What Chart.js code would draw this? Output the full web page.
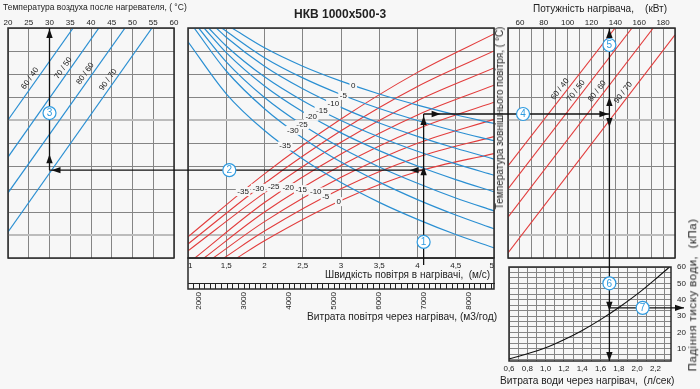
<!DOCTYPE html>
<html>
<head>
<meta charset="utf-8">
<script src="https://cdn.jsdelivr.net/npm/chart.js@4.4.1/dist/chart.umd.min.js"></script>
<style>
  body { margin: 0; background: #f7f7f7; }
  #page { position: relative; width: 700px; height: 389px; overflow: hidden;
          font-family: "Liberation Sans", Arial, sans-serif; color: #222; }
  #page canvas { position: absolute; left: 0; top: 0; }
  .txt { position: absolute; white-space: pre; line-height: 1; transform: translateY(-50%); }
  .rot { position: absolute; white-space: pre; line-height: 1; transform: translate(-50%, -50%) rotate(-90deg); }
</style>
</head>
<body>
<div id="page">
  <canvas id="outletChart" width="700" height="389"></canvas>
  <canvas id="airChart" width="700" height="389"></canvas>
  <canvas id="powerChart" width="700" height="389"></canvas>
  <canvas id="waterChart" width="700" height="389"></canvas>

  <div class="txt" style="left:3px;top:7px;font-size:8.5px">Температура воздуха после нагревателя, ( °C)</div>
  <div class="txt" style="left:294px;top:14px;font-size:12px;font-weight:bold">НКВ 1000x500-3</div>
  <div class="txt" style="left:533px;top:9px;font-size:10px">Потужність нагрівача,    (кВт)</div>
  <div class="rot" style="left:500px;top:118px;font-size:10px">Температура зовнішнього повітря, ( °C)</div>
  <div class="txt" style="left:325px;top:275px;font-size:10px">Швидкість повітря в нагрівачі,  (м/с)</div>
  <div class="txt" style="left:307px;top:317px;font-size:10.2px">Витрата повітря через нагрівач, (м3/год)</div>
  <div class="txt" style="left:500px;top:381px;font-size:10.2px">Витрата води через нагрівач,  (л/сек)</div>
  <div class="rot" style="left:693px;top:295px;font-size:11.5px;letter-spacing:0.5px">Падіння тиску води,  (кПа)</div>
</div>

<script>
Chart.defaults.font.family = '"Liberation Sans", Arial, sans-serif';
Chart.defaults.font.size = 8;
Chart.defaults.color = '#222';
Chart.defaults.animation = false;
Chart.defaults.plugins.legend.display = false;
Chart.defaults.plugins.tooltip.enabled = false;

// rows shared by the three upper panels
const rowMin = 0;
const rowMax = 10;
const heavyRows = [1, 6];

// left panel: air temperature after the heater
const outletRange = [20, 60];
const regimeNames = ['60 / 40', '70 / 50', '80 / 60', '90 / 70'];
const outletLines = [
  [[20, 6.0], [35.7, 10]],
  [[20, 4.39], [41.9, 10]],
  [[20, 2.83], [48.2, 10]],
  [[20, 1.13], [54.7, 10]]
];
const outletLabelAt = [26.5, 34.5, 39.8, 45.3];

// middle panel: air velocity / airflow
const velocityRange = [1, 5];
const airflowRange = [1755, 8555];
const curveTemps = ['0', '-5', '-10', '-15', '-20', '-25', '-30', '-35'];
const blueCurves = [
  [[1.575, 10], [2, 9.14], [2.5, 8.34], [3, 7.69], [3.5, 7.13], [4, 6.65], [4.5, 6.23], [5, 5.85]],
  [[1.44, 10], [2, 8.71], [2.5, 7.83], [3, 7.11], [3.5, 6.50], [4, 5.98], [4.5, 5.51], [5, 5.10]],
  [[1.37, 10], [1.5, 9.60], [2, 8.34], [2.5, 7.36], [3, 6.55], [3.5, 5.87], [4, 5.29], [4.5, 4.77], [5, 4.30]],
  [[1.27, 10], [1.5, 9.22], [2, 7.88], [2.5, 6.84], [3, 5.98], [3.5, 5.26], [4, 4.64], [4.5, 4.09], [5, 3.60]],
  [[1.21, 10], [1.5, 8.93], [2, 7.48], [2.5, 6.36], [3, 5.44], [3.5, 4.67], [4, 4.00], [4.5, 3.41], [5, 2.88]],
  [[1.14, 10], [1.5, 8.53], [2, 6.98], [2.5, 5.78], [3, 4.79], [3.5, 3.96], [4, 3.25], [4.5, 2.61], [5, 2.05]],
  [[1.08, 10], [1.5, 8.13], [2, 6.49], [2.5, 5.22], [3, 4.17], [3.5, 3.30], [4, 2.54], [4.5, 1.87], [5, 1.27]],
  [[1, 9.4], [1.5, 7.14], [2, 5.54], [2.5, 4.30], [3, 3.28], [3.5, 2.42], [4, 1.68], [4.5, 1.02], [5, 0.44]]
];
const blueLabelAt = [[3.16, 7.5], [3.03, 7.07], [2.9, 6.71], [2.75, 6.41], [2.61, 6.16], [2.49, 5.8], [2.37, 5.55], [2.27, 4.87]];
const redCurves = [
  [[1.64, 0], [2, 0.75], [3, 2.50], [4, 3.76], [5, 4.54]],
  [[1.47, 0], [2, 1.17], [3, 3.01], [4, 4.38], [5, 5.28]],
  [[1.33, 0], [2, 1.58], [3, 3.51], [4, 4.99], [5, 6.03]],
  [[1.21, 0], [2, 2.00], [3, 4.02], [4, 5.61], [5, 6.77]],
  [[1.09, 0], [2, 2.41], [3, 4.52], [4, 6.22], [5, 7.51]],
  [[1, 0.31], [2, 2.83], [3, 5.03], [4, 6.84], [5, 8.26]],
  [[1, 0.61], [2, 3.24], [3, 5.53], [4, 7.46], [5, 9.00]],
  [[1, 0.92], [2, 3.66], [3, 6.04], [4, 8.07], [5, 9.74]]
];
const redLabelAt = [[2.97, 2.45], [2.80, 2.64], [2.67, 2.87], [2.48, 2.97], [2.31, 3.06], [2.12, 3.09], [1.92, 3.03], [1.72, 2.89]];

// right panel: heater power
const powerRange = [50, 190];
const powerLines = [
  [[50, 4.0], [139.8, 10]],
  [[50, 3.0], [154, 10]],
  [[50, 1.78], [171.8, 10]],
  [[50, 0.22], [190, 9.7]]
];
const powerLabelAt = [97.6, 111, 128.7, 150.6];

// lower right panel: water pressure drop
const waterRange = [0.6, 2.37];
const pressureRange = [2.5, 60];
const waterFlow = [0.6, 0.8, 1.0, 1.2, 1.4, 1.6, 1.8, 2.0, 2.2, 2.35];
const pressureDrop = [3.8, 6.9, 10.6, 15.5, 21.2, 27.8, 35.2, 43.4, 52.6, 59.8];

// worked example
const guideVelocity = 4.08;
const guideRowLow = 3.82;
const guideRowHigh = 6.26;
const guideOutletTemp = 30;
const guidePower = 135;
const guidePressure = 35;

const BLUE = '#2a8fd2';
const RED = '#e23c3c';
const GRID = '#858585';
const BG = '#f7f7f7';
const charts = {};

function pts(list) { return list.map(p => ({ x: p[0], y: p[1] })); }

function fixSize(size) {
  return function (scale) {
    if (scale.isHorizontal()) scale.height = size; else scale.width = size;
    scale.paddingLeft = 0; scale.paddingRight = 0; scale.paddingTop = 0; scale.paddingBottom = 0;
  };
}

function stepTicks(min, max, step) {
  return function (scale) {
    const t = [];
    for (let i = 0; min + i * step <= max + 1e-9; i++) t.push({ value: +(min + i * step).toFixed(6) });
    scale.ticks = t;
  };
}

function rowAxis() {
  const heavy = c => c.tick && heavyRows.includes(c.tick.value);
  return {
    type: 'linear', min: rowMin, max: rowMax,
    afterBuildTicks: stepTicks(rowMin, rowMax, 1),
    afterFit: fixSize(0),
    ticks: { display: false },
    border: { display: false },
    grid: { drawTicks: false, color: c => heavy(c) ? '#bcbcbc' : GRID, lineWidth: c => heavy(c) ? 2 : 1 }
  };
}

function framePlugin(extra) {
  return {
    id: 'frame',
    afterDraw(chart) {
      const a = chart.chartArea, ctx = chart.ctx;
      ctx.save();
      ctx.strokeStyle = '#2a2a2a';
      ctx.lineWidth = 1.5;
      ctx.strokeRect(a.left, a.top, a.right - a.left, a.bottom - a.top);
      if (extra) extra(chart, ctx);
      ctx.restore();
    }
  };
}

function regimeLabels(lines, at) {
  return {
    id: 'regimeLabels',
    afterDatasetsDraw(chart) {
      const ctx = chart.ctx, sx = chart.scales.x, sy = chart.scales.y;
      ctx.save();
      ctx.font = '8px "Liberation Sans", Arial, sans-serif';
      ctx.fillStyle = '#222';
      ctx.textAlign = 'center';
      ctx.textBaseline = 'middle';
      lines.forEach((ln, i) => {
        const x0 = sx.getPixelForValue(ln[0][0]), y0 = sy.getPixelForValue(ln[0][1]);
        const x1 = sx.getPixelForValue(ln[1][0]), y1 = sy.getPixelForValue(ln[1][1]);
        const px = sx.getPixelForValue(at[i]);
        const py = y0 + (y1 - y0) * (px - x0) / (x1 - x0);
        ctx.save();
        ctx.translate(px, py);
        ctx.rotate(Math.atan2(y1 - y0, x1 - x0));
        ctx.fillText(regimeNames[i], 0, -6);
        ctx.restore();
      });
      ctx.restore();
    }
  };
}

const curveLabels = {
  id: 'curveLabels',
  afterDatasetsDraw(chart) {
    const ctx = chart.ctx, sx = chart.scales.x, sy = chart.scales.y;
    ctx.save();
    ctx.font = '8px "Liberation Sans", Arial, sans-serif';
    ctx.textAlign = 'center';
    ctx.textBaseline = 'middle';
    [blueLabelAt, redLabelAt].forEach(set => {
      set.forEach((p, i) => {
        const x = sx.getPixelForValue(p[0]), y = sy.getPixelForValue(p[1]);
        const w = ctx.measureText(curveTemps[i]).width + 3;
        ctx.fillStyle = BG;
        ctx.fillRect(x - w / 2, y - 4.5, w, 9);
        ctx.fillStyle = '#222';
        ctx.fillText(curveTemps[i], x, y);
      });
    });
    ctx.restore();
  }
};

function lineSet(list, color, width, smooth) {
  return {
    data: pts(list), borderColor: color, borderWidth: width, pointRadius: 0,
    cubicInterpolationMode: smooth ? 'monotone' : 'default', tension: 0
  };
}

// ---- left panel ----
charts.outlet = new Chart(document.getElementById('outletChart'), {
  type: 'line',
  data: { datasets: outletLines.map(l => lineSet(l, BLUE, 1.2, false)) },
  options: {
    responsive: false, events: [],
    layout: { autoPadding: false, padding: { left: 8, top: 8, right: 526, bottom: 131 } },
    scales: {
      x: {
        type: 'linear', position: 'top', min: outletRange[0], max: outletRange[1],
        afterBuildTicks: stepTicks(outletRange[0], outletRange[1], 5),
        afterFit: fixSize(20),
        ticks: { padding: 0, autoSkip: false, maxRotation: 0 },
        border: { display: false },
        grid: { drawTicks: false, color: GRID }
      },
      y: rowAxis()
    }
  },
  plugins: [regimeLabels(outletLines, outletLabelAt), framePlugin()]
});

// ---- middle panel ----
charts.air = new Chart(document.getElementById('airChart'), {
  type: 'line',
  data: {
    datasets: blueCurves.map(c => lineSet(c, BLUE, 1.2, true))
      .concat(redCurves.map(c => lineSet(c, RED, 1.1, true)))
  },
  options: {
    responsive: false, events: [],
    layout: { autoPadding: false, padding: { left: 188, top: 28, right: 206, bottom: 66 } },
    scales: {
      x: {
        type: 'linear', position: 'bottom', weight: 0, min: velocityRange[0], max: velocityRange[1],
        afterBuildTicks: stepTicks(velocityRange[0], velocityRange[1], 0.5),
        afterFit: fixSize(25),
        ticks: { align: 'inner', autoSkip: false, maxRotation: 0, callback: v => String(v).replace('.', ',') },
        border: { display: false },
        grid: { drawTicks: false, color: GRID }
      },
      x2: {
        type: 'linear', position: 'bottom', weight: 1, min: airflowRange[0], max: airflowRange[1],
        afterBuildTicks: stepTicks(1875, 8500, 125),
        afterFit: fixSize(40),
        ticks: { autoSkip: false, minRotation: 90, maxRotation: 90, callback: v => v % 1000 === 0 ? String(v) : '' },
        border: { display: true, color: '#222', width: 1 },
        grid: { drawOnChartArea: false, drawTicks: true, tickLength: 6, tickColor: '#222', tickWidth: 1 }
      },
      y: rowAxis()
    }
  },
  plugins: [curveLabels, framePlugin((chart, ctx) => {
    const a = chart.chartArea, x2 = chart.scales.x2;
    ctx.strokeRect(a.left, a.bottom, a.right - a.left, x2.top + 6 - a.bottom);
  })]
});

// ---- right panel ----
charts.power = new Chart(document.getElementById('powerChart'), {
  type: 'line',
  data: { datasets: powerLines.map(l => lineSet(l, RED, 1.1, false)) },
  options: {
    responsive: false, events: [],
    layout: { autoPadding: false, padding: { left: 508, top: 8, right: 25, bottom: 131 } },
    scales: {
      x: {
        type: 'linear', position: 'top', min: powerRange[0], max: powerRange[1],
        afterBuildTicks: stepTicks(powerRange[0], powerRange[1], 10),
        afterFit: fixSize(20),
        ticks: { padding: 0, autoSkip: false, maxRotation: 0, callback: v => (v % 20 === 0 && v > 50 && v < 190) ? String(v) : '' },
        border: { display: false },
        grid: { drawTicks: false, color: GRID }
      },
      y: rowAxis()
    }
  },
  plugins: [regimeLabels(powerLines, powerLabelAt), framePlugin()]
});

// ---- worked example arrows, drawn over all panels ----
const guidePlugin = {
  id: 'guides',
  afterDraw(chart) {
    const ctx = chart.ctx;
    const air = charts.air, outlet = charts.outlet, power = charts.power;
    const xv = air.scales.x.getPixelForValue(guideVelocity);
    const yLow = air.scales.y.getPixelForValue(guideRowLow);
    const yHigh = air.scales.y.getPixelForValue(guideRowHigh);
    const xt = outlet.scales.x.getPixelForValue(guideOutletTemp);
    const xp = power.scales.x.getPixelForValue(guidePower);
    const yp = chart.scales.y.getPixelForValue(guidePressure);
    const topY = air.chartArea.top;
    const bottomY = chart.chartArea.bottom;
    const endX = chart.chartArea.right + 13;

    ctx.save();
    ctx.strokeStyle = '#111';
    ctx.fillStyle = '#111';
    ctx.lineWidth = 1.3;
    const seg = (x1, y1, x2, y2) => { ctx.beginPath(); ctx.moveTo(x1, y1); ctx.lineTo(x2, y2); ctx.stroke(); };
    seg(xv, air.chartArea.bottom + 7, xv, yHigh);
    seg(xv, yLow, xt, yLow);
    seg(xt, yLow, xt, topY);
    seg(xv, yHigh, xp, yHigh);
    seg(xp, topY, xp, bottomY);
    seg(xp, yp, endX, yp);

    const head = (x, y, dir) => {
      const L = 9, W = 3.2;
      const d = { up: [0, 1], down: [0, -1], left: [1, 0], right: [-1, 0] }[dir];
      ctx.beginPath();
      ctx.moveTo(x, y);
      ctx.lineTo(x + d[0] * L - d[1] * W, y + d[1] * L + d[0] * W);
      ctx.lineTo(x + d[0] * L + d[1] * W, y + d[1] * L - d[0] * W);
      ctx.closePath();
      ctx.fill();
    };
    head(xv, yLow - 4, 'up');
    head(xv, yHigh + 2, 'up');
    head(xv - 14, yLow, 'left');
    head(xt + 2, yLow, 'left');
    head(xt, topY + 1, 'up');
    head(xt, yLow - 16, 'up');
    head(xv + 17, yHigh, 'right');
    head(xp - 1, yHigh, 'right');
    head(xp, topY + 1, 'up');
    head(xp, yHigh - 17, 'up');
    head(xp, yHigh + 13, 'down');
    head(xp, yp + 3, 'down');
    head(xp, bottomY, 'down');
    head(endX, yp, 'right');

    const circle = (n, x, y) => {
      ctx.beginPath();
      ctx.arc(x, y, 6.5, 0, Math.PI * 2);
      ctx.fillStyle = '#ffffff';
      ctx.fill();
      ctx.strokeStyle = '#2f9be0';
      ctx.lineWidth = 1.2;
      ctx.stroke();
      ctx.fillStyle = '#2f9be0';
      ctx.font = '10px "Liberation Sans", Arial, sans-serif';
      ctx.textAlign = 'center';
      ctx.textBaseline = 'middle';
      ctx.fillText(String(n), x, y + 0.5);
    };
    circle(1, xv, air.scales.y.getPixelForValue(0.7));
    circle(2, air.scales.x.getPixelForValue(1.54), yLow);
    circle(3, xt, outlet.scales.y.getPixelForValue(6.3));
    circle(4, power.scales.x.getPixelForValue(62.6), yHigh);
    circle(5, xp, power.scales.y.getPixelForValue(9.26));
    circle(6, xp, chart.scales.y.getPixelForValue(50));
    circle(7, chart.scales.x.getPixelForValue(2.06), yp);
    ctx.restore();
  }
};

// ---- lower right panel ----
charts.water = new Chart(document.getElementById('waterChart'), {
  type: 'line',
  data: {
    datasets: [{
      data: waterFlow.map((q, i) => ({ x: q, y: pressureDrop[i] })),
      borderColor: '#111', borderWidth: 1.1, pointRadius: 0, cubicInterpolationMode: 'monotone'
    }]
  },
  options: {
    responsive: false, events: [],
    layout: { autoPadding: false, padding: { left: 509, top: 267, right: 9, bottom: 12 } },
    scales: {
      x: {
        type: 'linear', position: 'bottom', min: waterRange[0], max: waterRange[1],
        afterBuildTicks: stepTicks(waterRange[0], waterRange[1], 0.1),
        afterFit: fixSize(16),
        ticks: { autoSkip: false, maxRotation: 0,
                 callback: v => Math.round(v * 10) % 2 === 0 ? v.toFixed(1).replace('.', ',') : '' },
        border: { display: false },
        grid: { drawTicks: false, color: GRID }
      },
      y: {
        type: 'linear', position: 'right', min: pressureRange[0], max: pressureRange[1],
        afterBuildTicks: scale => {
          const t = [];
          for (let i = 0; pressureRange[1] - i * 10 / 3 >= pressureRange[0]; i++) t.push({ value: pressureRange[1] - i * 10 / 3 });
          scale.ticks = t;
        },
        afterFit: fixSize(20),
        ticks: { padding: 6, autoSkip: false,
                 callback: v => (Math.abs(v / 10 - Math.round(v / 10)) < 1e-6 && v >= 9) ? String(Math.round(v)) : '' },
        border: { display: false },
        grid: { drawTicks: false, color: GRID }
      }
    }
  },
  plugins: [framePlugin(), guidePlugin]
});
</script>
</body>
</html>
